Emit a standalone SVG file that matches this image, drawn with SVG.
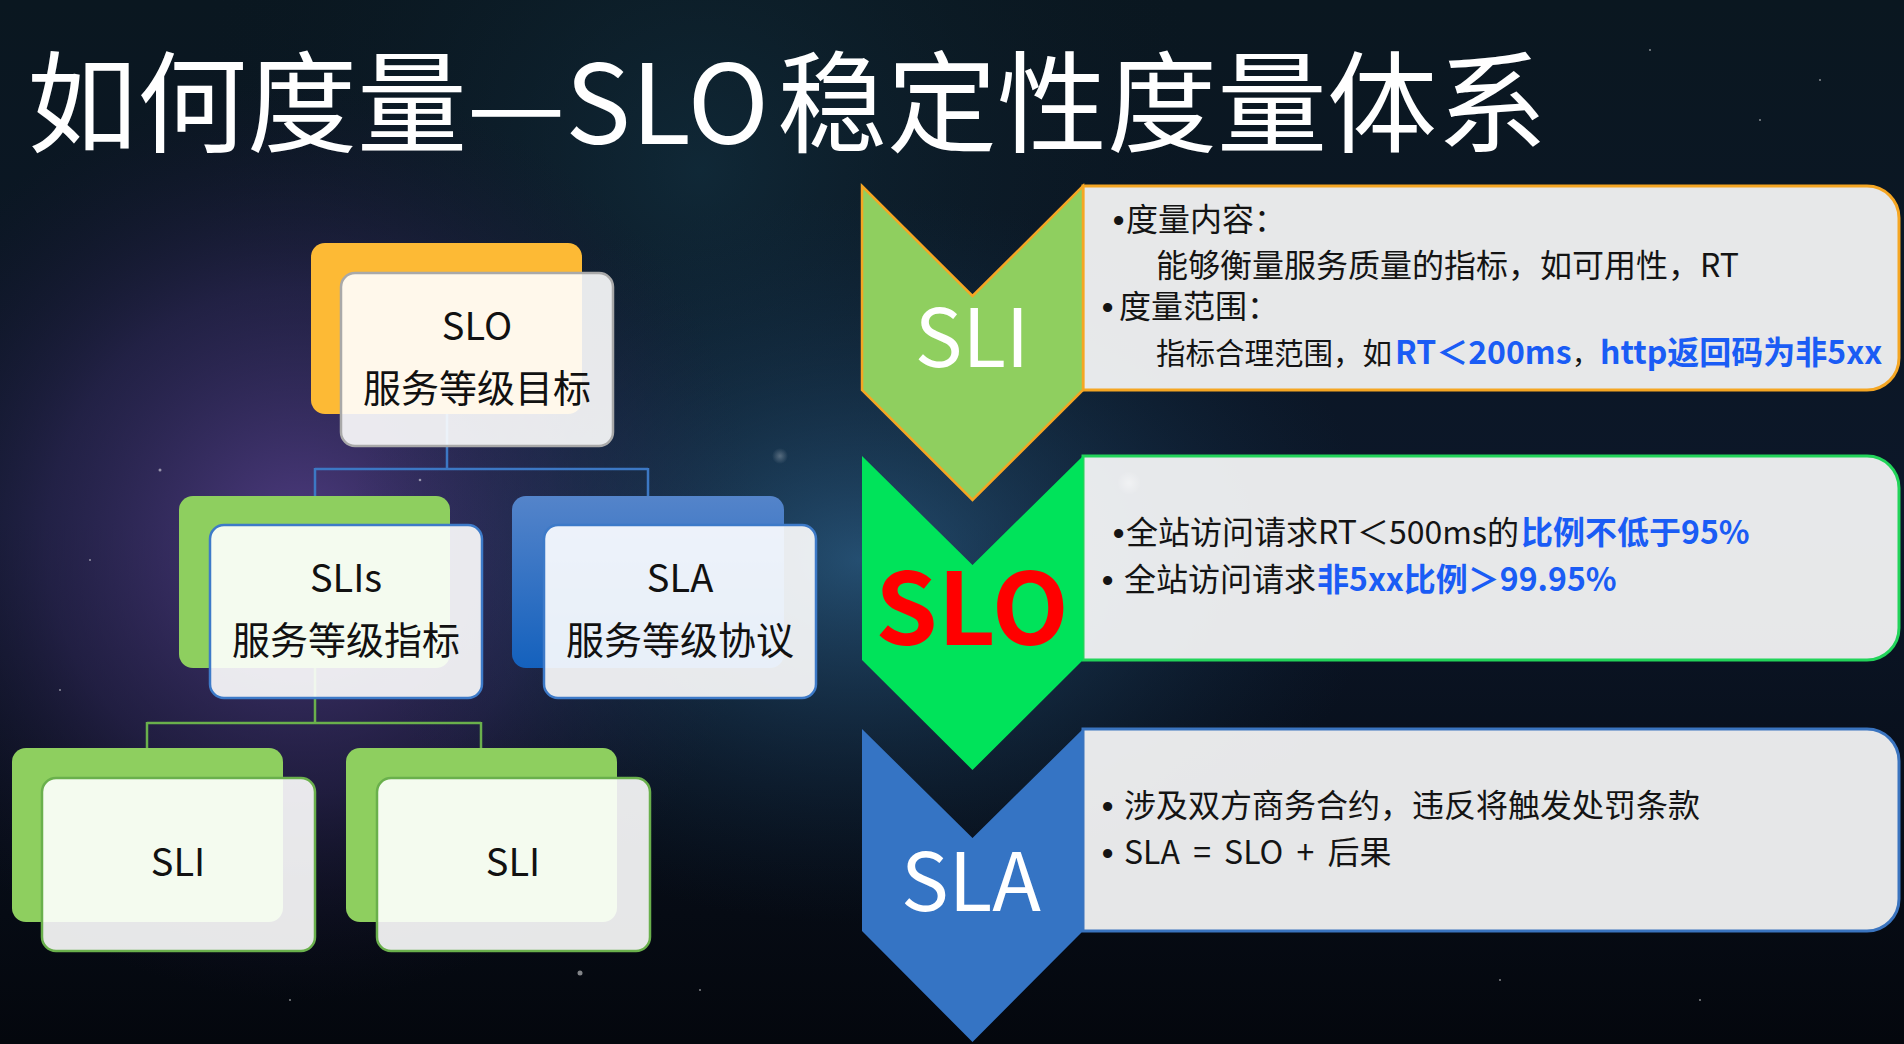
<svg xmlns="http://www.w3.org/2000/svg" width="1904" height="1044" viewBox="0 0 1904 1044">
<defs>
  <linearGradient id="bgBase" x1="0" y1="0" x2="0" y2="1">
    <stop offset="0" stop-color="#0a1720"/>
    <stop offset="0.5" stop-color="#0c1729"/>
    <stop offset="1" stop-color="#04070d"/>
  </linearGradient>
  <radialGradient id="purple" cx="300" cy="540" r="460" gradientUnits="userSpaceOnUse">
    <stop offset="0" stop-color="#5a4290" stop-opacity="0.85"/>
    <stop offset="0.55" stop-color="#382b63" stop-opacity="0.5"/>
    <stop offset="1" stop-color="#1a1430" stop-opacity="0"/>
  </radialGradient>
  <radialGradient id="teal" cx="860" cy="560" r="520" gradientUnits="userSpaceOnUse" gradientTransform="translate(860 560) scale(1 0.7) translate(-860 -560)">
    <stop offset="0" stop-color="#2f6690" stop-opacity="0.7"/>
    <stop offset="1" stop-color="#12304a" stop-opacity="0"/>
  </radialGradient>
  <radialGradient id="topTeal" cx="700" cy="170" r="520" gradientUnits="userSpaceOnUse">
    <stop offset="0" stop-color="#15394a" stop-opacity="0.5"/>
    <stop offset="1" stop-color="#0b1822" stop-opacity="0"/>
  </radialGradient>
  <radialGradient id="starGlow">
    <stop offset="0" stop-color="#ffffff" stop-opacity="0.9"/>
    <stop offset="1" stop-color="#ffffff" stop-opacity="0"/>
  </radialGradient>
  <linearGradient id="slaBack" x1="0" y1="0" x2="0" y2="1">
    <stop offset="0" stop-color="#5484ca"/>
    <stop offset="1" stop-color="#1461bd"/>
  </linearGradient>
</defs>
<style>
  .f{font-family:"Noto Sans CJK SC","Noto Sans","Liberation Sans",sans-serif}
  .title{font-size:110px;fill:#ffffff}
  .front{fill:#ffffff;fill-opacity:0.9;stroke-width:2.5}
  .ntxt{font-size:38px;fill:#111111;text-anchor:middle}
  .panel{fill:#ffffff;fill-opacity:0.9;stroke-width:3}
  .ptxt{font-size:32px;fill:#141414}
  .bul{font-family:"Liberation Sans",Arial,sans-serif;font-size:32px;font-weight:700;fill:#141414}
  .blue{fill:#1a5cf5;font-weight:700}
  .conn{fill:none;stroke-width:2.5}
  .chev{font-size:80px;fill:#ffffff;text-anchor:middle}
  .star{fill:#ffffff}
</style>

<!-- background -->
<rect x="0" y="0" width="1904" height="1044" fill="url(#bgBase)"/>
<rect x="0" y="0" width="1904" height="1044" fill="url(#topTeal)"/>
<rect x="0" y="0" width="1904" height="1044" fill="url(#purple)"/>
<rect x="0" y="0" width="1904" height="1044" fill="url(#teal)"/>
<g class="star" opacity="0.5">
  <circle cx="160" cy="470" r="1.5"/><circle cx="250" cy="620" r="1.2"/><circle cx="90" cy="560" r="1"/>
  <circle cx="420" cy="480" r="1.3"/><circle cx="60" cy="690" r="1"/><circle cx="1650" cy="50" r="1"/>
  <circle cx="1760" cy="120" r="1"/><circle cx="1820" cy="80" r="1"/><circle cx="290" cy="1000" r="1"/>
  <circle cx="700" cy="990" r="1"/><circle cx="1500" cy="980" r="1"/><circle cx="1700" cy="1000" r="1"/>
  <circle cx="580" cy="973" r="2.5"/>
</g>
<circle cx="780" cy="456" r="8" fill="url(#starGlow)" opacity="0.3"/>

<!-- title -->
<text class="f title" x="27" y="144">如何度量—SLO</text>
<text class="f title" x="777" y="144">稳定性度量体系</text>

<!-- connectors -->
<g id="connectors">
  <path class="conn" stroke="#3c78c4" d="M447,413 V469 M315,469 H648 M315,468 V496 M648,468 V496"/>
  <path class="conn" stroke="#6ab04c" d="M315,668 V723 M147,723 H481 M147,722 V748 M481,722 V748"/>
</g>

<!-- tree nodes -->
<g id="node-slo">
  <rect x="311" y="243" width="271" height="171" rx="14" fill="#fdba35"/>
  <rect class="front" x="341" y="273" width="272" height="173" rx="14" stroke="#a9a9a9"/>
  <text class="f ntxt" x="477" y="340">SLO</text>
  <text class="f ntxt" x="477" y="402">服务等级目标</text>
</g>
<g id="node-slis">
  <rect x="179" y="496" width="271" height="172" rx="14" fill="#8ecf5f"/>
  <rect class="front" x="210" y="525" width="272" height="173" rx="14" stroke="#3d7ac8"/>
  <text class="f ntxt" x="346" y="592">SLIs</text>
  <text class="f ntxt" x="346" y="654">服务等级指标</text>
</g>
<g id="node-sla">
  <rect x="512" y="496" width="272" height="172" rx="14" fill="url(#slaBack)"/>
  <rect class="front" x="544" y="525" width="272" height="173" rx="14" stroke="#3d7ac8"/>
  <text class="f ntxt" x="680" y="592">SLA</text>
  <text class="f ntxt" x="680" y="654">服务等级协议</text>
</g>
<g id="node-sli-1">
  <rect x="12" y="748" width="271" height="174" rx="14" fill="#8ecf5f"/>
  <rect class="front" x="42" y="778" width="273" height="173" rx="14" stroke="#6ab04c"/>
  <text class="f ntxt" x="178" y="876">SLI</text>
</g>
<g id="node-sli-2">
  <rect x="346" y="748" width="271" height="174" rx="14" fill="#8ecf5f"/>
  <rect class="front" x="377" y="778" width="273" height="173" rx="14" stroke="#6ab04c"/>
  <text class="f ntxt" x="513" y="876">SLI</text>
</g>

<!-- levels -->
<g id="level-sli">
  <path class="panel" stroke="#f5a623" d="M1083,186 H1867 A32,32 0 0 1 1899,218 V358 A32,32 0 0 1 1867,390 H1083 Z"/>
  <path d="M862,186 L972.5,296 L1083,186 V390 L972.5,500 L862,390 Z" fill="#8fcf5f" stroke="#f5a623" stroke-width="2.5"/>
  <text class="f chev" x="972" y="367">SLI</text>
  <text class="bul" x="1113" y="231">•</text>
  <text class="f ptxt" x="1126" y="231">度量内容：</text>
  <text class="f ptxt" x="1156" y="277">能够衡量服务质量的指标，如可用性，RT</text>
  <text class="bul" x="1102" y="318">•</text>
  <text class="f ptxt" x="1119" y="318">度量范围：</text>
  <text class="f ptxt" y="364"><tspan x="1156" style="font-size:29.5px">指标合理范围，如</tspan><tspan class="blue" x="1395">RT＜200ms</tspan><tspan x="1572" style="font-size:27px">，</tspan><tspan class="blue" x="1600">http返回码为非5xx</tspan></text>
</g>
<g id="level-slo">
  <path class="panel" stroke="#22d45a" d="M1083,456 H1867 A32,32 0 0 1 1899,488 V628 A32,32 0 0 1 1867,660 H1083 Z"/>
  <path d="M862,456 L972.5,565 L1083,456 V660 L972.5,770 L862,660 Z" fill="#00e35a"/>
  <text class="f chev" x="972" y="645" style="font-size:100px;font-weight:700;fill:#ff0000">SLO</text>
  <text class="bul" x="1113" y="544">•</text>
  <text class="f ptxt" y="544"><tspan x="1126">全站访问请求RT＜500ms的</tspan><tspan class="blue" x="1521">比例不低于95%</tspan></text>
  <text class="bul" x="1102" y="591">•</text>
  <text class="f ptxt" y="591"><tspan x="1124">全站访问请求</tspan><tspan class="blue" x="1317">非5xx比例＞99.95%</tspan></text>
</g>
<g id="level-sla">
  <path class="panel" stroke="#3a74bf" d="M1083,729 H1867 A32,32 0 0 1 1899,761 V899 A32,32 0 0 1 1867,931 H1083 Z"/>
  <path d="M862,729 L972.5,838 L1083,729 V931 L972.5,1042 L862,931 Z" fill="#3574c4"/>
  <text class="f chev" x="971" y="911">SLA</text>
  <text class="bul" x="1102" y="817">•</text>
  <text class="f ptxt" x="1124" y="817">涉及双方商务合约，违反将触发处罚条款</text>
  <text class="bul" x="1102" y="864">•</text>
  <text class="f ptxt" x="1124" y="864" style="word-spacing:6px">SLA = SLO + 后果</text>
</g>
<circle cx="1129" cy="483" r="12" fill="url(#starGlow)" opacity="0.45"/>
</svg>
